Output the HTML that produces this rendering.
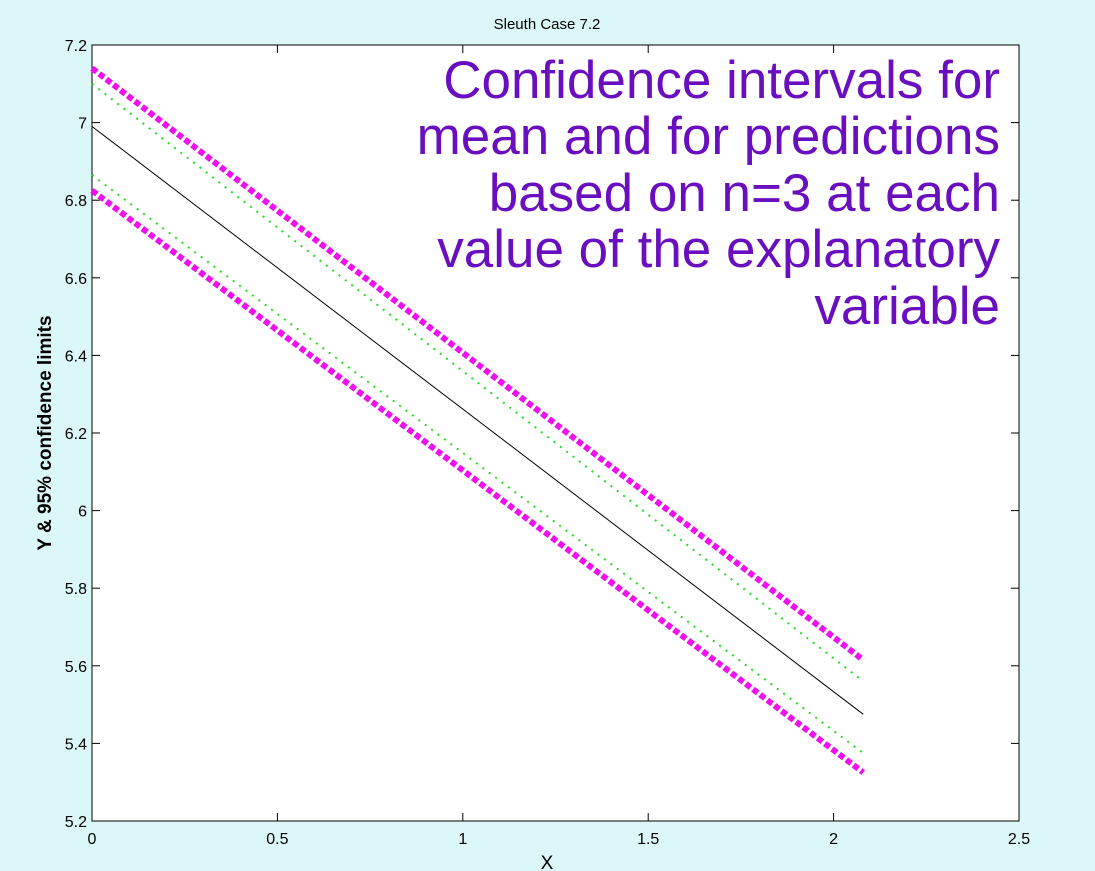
<!DOCTYPE html>
<html><head><meta charset="utf-8"><style>
body{margin:0;background:#dcf7f7;font-family:"Liberation Sans",Arial,sans-serif}
svg{display:block}
</style></head><body>
<svg width="1095" height="871" id="c">
<rect x="0" y="0" width="1095" height="871" fill="#dcf7f7"/>
<rect x="92" y="45" width="927" height="776" fill="#fff" stroke="#000" stroke-width="1"/>
<text x="547" y="29" font-size="15" text-anchor="middle">Sleuth Case 7.2</text>
<text x="547" y="869" font-size="19" text-anchor="middle">X</text>
<text transform="translate(51,433) rotate(-90)" font-size="19" font-weight="bold" text-anchor="middle">Y &amp; 95% confidence limits</text>
<g id="ticks"></g>
<g id="lines"></g>
<g font-size="53" fill="#6a0fbf" text-anchor="end">
<text x="1000" y="98">Confidence intervals for</text>
<text x="1000" y="154">mean and for predictions</text>
<text x="1000" y="211">based on n=3 at each</text>
<text x="1000" y="267">value of the explanatory</text>
<text x="1000" y="324">variable</text>
</g>
</svg>
<script>
const xTicks=[0,0.5,1,1.5,2,2.5];
const yTicks=[5.2,5.4,5.6,5.8,6,6.2,6.4,6.6,6.8,7,7.2];
const xRange=[0,2.08];
const fitLine=[6.99,5.475];
const meanUpper=[7.10,5.56];
const meanLower=[6.865,5.375];
const predUpper=[7.14,5.615];
const predLower=[6.825,5.325];
const NS="http://www.w3.org/2000/svg";
const L=92,R=1019,T=45,B=821;
const sx=v=>L+(v-0)/(2.5-0)*(R-L);
const sy=v=>B-(v-5.2)/(7.2-5.2)*(B-T);
const tg=document.getElementById('ticks');
function mk(tag,a,p){const e=document.createElementNS(NS,tag);for(const k in a)e.setAttribute(k,a[k]);p.appendChild(e);return e;}
xTicks.forEach(v=>{
  const x=sx(v);
  const t=mk('line',{x1:x,x2:x,y1:B,y2:B-8,stroke:'#000'},tg);
  
  
  const t2=mk('line',{x1:x,x2:x,y1:T,y2:T+8,stroke:'#000'},tg);
  
  
  const l=mk('text',{x:x,y:B+23,'font-size':16,'text-anchor':'middle'},tg);l.textContent=v;
  
  
});
yTicks.forEach(v=>{
  const y=sy(v);
  const t=mk('line',{x1:L,x2:L+8,y1:y,y2:y,stroke:'#000'},tg);
  
  
  const t2=mk('line',{x1:R,x2:R-8,y1:y,y2:y,stroke:'#000'},tg);
  
  
  const l=mk('text',{x:L-5,y:y+6,'font-size':16,'text-anchor':'end'},tg);l.textContent=v;
  
  
});
const lg=document.getElementById('lines');
function series(d,style,name){
  const e=mk('line',Object.assign({x1:sx(xRange[0]),y1:sy(d[0]),x2:sx(xRange[1]),y2:sy(d[1])},style),lg);
  
  
}
series(meanUpper,{stroke:'#22dd22','stroke-width':2,'stroke-dasharray':'2 6'},'mean-ci-upper');
series(meanLower,{stroke:'#22dd22','stroke-width':2,'stroke-dasharray':'2 6'},'mean-ci-lower');
series(predUpper,{stroke:'#ee11ee','stroke-width':6,'stroke-dasharray':'6 3'},'prediction-upper');
series(predLower,{stroke:'#ee11ee','stroke-width':6,'stroke-dasharray':'6 3'},'prediction-lower');
series(fitLine,{stroke:'#000','stroke-width':1},'fit-line');
</script>
</body></html>
